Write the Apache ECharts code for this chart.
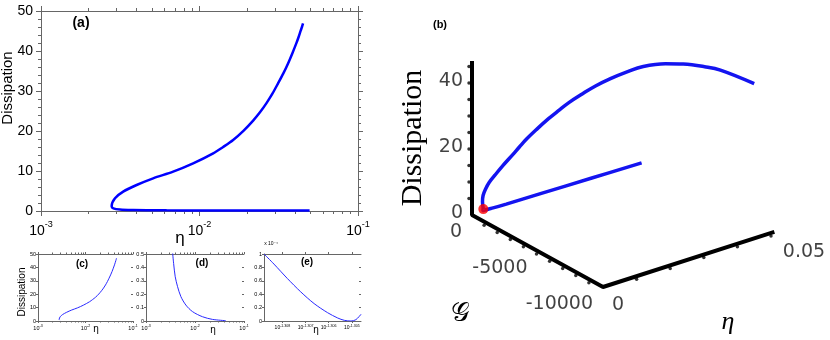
<!DOCTYPE html>
<html>
<head>
<meta charset="utf-8">
<script src="https://cdn.jsdelivr.net/npm/echarts@6/dist/echarts.min.js"></script>
<style>
  html, body { margin: 0; padding: 0; background: #fff; }
  #chart { width: 830px; height: 340px; }
</style>
</head>
<body>
<div id="chart"></div>
<script>
// upper branch, from the top end down to the fold
const upperEta = [0.0450, 0.0443, 0.0435, 0.0422, 0.0408, 0.0385, 0.0362, 0.0338, 0.0313, 0.0289, 0.0264, 0.0240, 0.0218, 0.0190, 0.0163, 0.0141, 0.0122, 0.00912, 0.00682, 0.00510, 0.00401, 0.00330, 0.00293, 0.00279]
const upperDiss = [46.9, 46.0, 45.1, 43.5, 41.9, 39.4, 36.9, 34.4, 31.9, 29.4, 26.9, 24.6, 22.6, 20.1, 17.75, 16.0, 14.4, 11.9, 9.83, 8.17, 6.5, 4.83, 3.17, 1.2]
const upperG = [-10000, -7600, -6600, -5300, -4300, -3200, -2500, -1900, -1400, -1000, -650, -420, -250, -100, 0, 0, 0, 0, 0, 0, 0, 0, -50, -150]

// lower branch, from the fold out to large eta
const lowerEta = [0.00279, 0.00286, 0.00315, 0.00382, 0.0050, 0.0062, 0.010, 0.020, 0.035, 0.0495]
const lowerDiss = [1.2, 0.67, 0.35, 0.22, 0.18, 0.16, 0.15, 0.14, 0.13, 0.13]
const lowerG = [-150, -100, -50, 0, 0, -20, -50, -100, -170, -250]

// fold point (red dot in b)
const foldEta = [0.00279]
const foldG = [-150]
const foldDiss = [1.2]

// panel (d): lower branch close up
const dEta = [0.00348, 0.00366, 0.00395, 0.00441, 0.00515, 0.00651, 0.0089, 0.0142, 0.0227, 0.0424]
const dDiss = [0.517, 0.43, 0.33, 0.256, 0.182, 0.119, 0.07, 0.032, 0.012, 0.0025]

// panel (e): log10(eta) and dissipation (x 10^-4)
const eLogEta = [-1.3088, -1.30837, -1.30779, -1.30721, -1.30663, -1.30605, -1.30561, -1.30532, -1.30503, -1.30482, -1.3046]
const eDiss = [1.0, 0.85, 0.635, 0.435, 0.26, 0.125, 0.045, 0.01, 0.0, 0.02, 0.1]
const eTickLog = [-1.308, -1.307, -1.306, -1.305]

// panel (b) axes
const bDissLabels = [0, 20, 40]
const bDissTicks = [5, 10, 15, 20, 25, 30, 35, 40, 45]
const bGLabels = [0, -5000, -10000]
const bGTicks = [-1000, -2000, -3000, -4000, -5000, -6000, -7000, -8000, -9000]
const bEtaLabels = [0, 0.05]
const bEtaTicks = [0.01, 0.02, 0.03, 0.04, 0.05]
const bDissTop = 46.7
const bGEnd = -10000
const bEtaEnd = 0.051

const SANS = 'Liberation Sans'
const SERIF = 'Liberation Serif'
const frame = '#666'
const blue = '#0000ff'

const zip = (xs, ys) => xs.map((x, i) => [x, ys[i]])

// simple oblique view for the 3-D panel: pixels per unit along each axis
const view = { etaX: 3360, etaY: 1080, gX: 0.0131, gY: -0.0072, dY: 3.3 }
function project(eta, g, d) {
  return [eta * view.etaX - g * view.gX, d * view.dY + eta * view.etaY - g * view.gY]
}
const project3 = (etas, gs, ds) => etas.map((e, i) => project(e, gs[i], ds[i]))

function pow10(v) {
  return '{b|10}{s|' + Math.round(Math.log10(v)) + '}'
}
function supRich(base, sup, lh) {
  return {
    b: { fontSize: base, fontFamily: SANS, color: '#000', lineHeight: lh, verticalAlign: 'bottom' },
    s: { fontSize: sup, fontFamily: SANS, color: '#000', lineHeight: sup, verticalAlign: 'top' }
  }
}

const grids = [
  { left: 41, top: 11, width: 317, height: 200 },   // a
  { left: 472, top: 15, width: 330, height: 200 },  // b (3-D projection)
  { left: 38, top: 254, width: 95, height: 67 },    // c
  { left: 146, top: 254, width: 98, height: 67 },   // d
  { left: 264, top: 254, width: 97, height: 67 }    // e
].map((g) => ({ ...g, containLabel: false, outerBoundsMode: 'none' }))

const line = (c, w) => ({ lineStyle: { color: c, width: w || 1 } })

function logX(grid, pos, fs, lab) {
  return {
    type: 'log', logBase: 10, gridIndex: grid, position: pos, min: 0.001, max: 0.1,
    axisLine: { show: true, onZero: false, ...line(frame) },
    axisTick: { show: true, length: fs > 8 ? 5 : 2, ...line(frame) },
    minorTick: { show: true, splitNumber: 9, length: fs > 8 ? 3 : 1.5, ...line(frame) },
    splitLine: { show: false },
    axisLabel: lab ? {
      formatter: pow10, margin: fs > 8 ? 9 : 3, rich: supRich(fs, fs * 0.65, fs * 1.3)
    } : { show: false }
  }
}
function valY(grid, pos, min, max, step, fs, lab, minor) {
  const big = fs > 8
  return {
    type: 'value', gridIndex: grid, position: pos, min: min, max: max, interval: step,
    axisLine: { show: pos === 'left' || big, onZero: false, ...line(frame) },
    axisTick: { show: true, length: big ? 5 : 2, inside: pos === 'right' && !big, ...line(frame) },
    minorTick: { show: !!minor, splitNumber: minor || 5, length: 3, ...line(frame) },
    splitLine: { show: false },
    axisLabel: lab ? { color: '#000', fontFamily: SANS, fontSize: fs, margin: big ? 8 : 2 } : { show: false }
  }
}
function logEX(pos, lab) {
  return {
    type: 'value', gridIndex: 4, position: pos, min: -1.3088, max: -1.3046,
    axisLine: { onZero: false, ...line(frame) }, splitLine: { show: false },
    axisTick: { length: 2, customValues: eTickLog, ...line(frame) },
    axisLabel: lab ? {
      customValues: eTickLog, margin: 3, rich: supRich(5, 3.6, 6.5),
      formatter: (v) => '{b|10}{s|' + v.toFixed(3) + '}'
    } : { show: false }
  }
}

const xAxis = [
  logX(0, 'bottom', 14, true),
  logX(0, 'top', 14, false),
  { type: 'value', gridIndex: 1, min: 0, max: 330, show: false },
  logX(2, 'bottom', 5.5, true),
  logX(2, 'top', 5.5, false),
  logX(3, 'bottom', 5.5, true),
  logX(3, 'top', 5.5, false),
  logEX('bottom', true),
  logEX('top', false)
]

const yAxis = [
  valY(0, 'left', 0, 50, 10, 14, true, 5),
  valY(0, 'right', 0, 50, 10, 14, false, 5),
  { type: 'value', gridIndex: 1, min: 0, max: 200, show: false },
  valY(2, 'left', 0, 50, 10, 5.5, true),
  valY(2, 'right', 0, 50, 10, 5.5, false),
  valY(3, 'left', 0, 0.5, 0.1, 5.5, true),
  valY(3, 'right', 0, 0.5, 0.1, 5.5, false),
  valY(4, 'left', 0, 1, 0.2, 5.5, true),
  valY(4, 'right', 0, 1, 0.2, 5.5, false)
]

const curveA = zip(upperEta, upperDiss).concat(zip(lowerEta, lowerDiss).slice(1))
const curveC = zip(upperEta, upperDiss).concat(zip(lowerEta, lowerDiss).slice(1, 2))

function bLabels(points, texts, align, offset) {
  return {
    type: 'scatter', xAxisIndex: 2, yAxisIndex: 2, symbolSize: 1, clip: false,
    itemStyle: { color: 'rgba(0,0,0,0)' },
    label: {
      show: true, position: 'inside', formatter: '{b}', offset: offset, align: align,
      fontFamily: 'DejaVu Sans', fontSize: 19, color: '#111'
    },
    data: points.map((p, i) => ({ name: texts[i], value: p }))
  }
}
function bTicks(points, off) {
  return {
    type: 'scatter', xAxisIndex: 2, yAxisIndex: 2, clip: false, symbol: 'circle', symbolSize: 3.5,
    symbolOffset: off, itemStyle: { color: '#000' }, data: points
  }
}

const series = [
  // (a)
  {
    type: 'line', xAxisIndex: 0, yAxisIndex: 0, data: curveA, showSymbol: false, smooth: 0.3,
    lineStyle: { color: blue, width: 2.5 }
  },
  // (b) frame of the 3-D box
  {
    type: 'line', xAxisIndex: 2, yAxisIndex: 2, showSymbol: false, clip: false,
    lineStyle: { color: '#000', width: 4 },
    data: [project(0, 0, bDissTop), project(0, 0, 0), project(0, bGEnd, 0), project(bEtaEnd, bGEnd, 0)]
  },
  bTicks(bDissTicks.map((d) => project(0, 0, d)), [-3, 0]),
  bTicks(bGTicks.map((g) => project(0, g, 0)), [-1, 3]),
  bTicks(bEtaTicks.map((e) => project(e, bGEnd, 0)), [0, 3]),
  bLabels(bDissLabels.map((d) => project(0, 0, d)), bDissLabels.map(String), 'right', [-9, -2]),
  bLabels(bGLabels.map((g) => project(0, g, 0)), bGLabels.map(String), 'right', [-10, 17]),
  bLabels(bEtaLabels.map((e) => project(e, bGEnd, 0)), bEtaLabels.map(String), 'center', [0, 0]),
  {
    type: 'line', xAxisIndex: 2, yAxisIndex: 2, showSymbol: false, clip: false, smooth: 0.4,
    lineStyle: { color: '#1414f0', width: 3.5 }, data: project3(upperEta, upperG, upperDiss)
  },
  {
    type: 'line', xAxisIndex: 2, yAxisIndex: 2, showSymbol: false, clip: false, smooth: 0.4,
    lineStyle: { color: '#1414f0', width: 3.5 }, data: project3(lowerEta, lowerG, lowerDiss)
  },
  {
    type: 'scatter', xAxisIndex: 2, yAxisIndex: 2, clip: false, symbolSize: 10, z: 5,
    itemStyle: { color: '#ff0000' }, data: project3(foldEta, foldG, foldDiss)
  },
  // (c), (d), (e)
  {
    type: 'line', xAxisIndex: 3, yAxisIndex: 3, data: curveC, showSymbol: false, smooth: 0.3,
    lineStyle: { color: '#2a2aff', width: 1 }
  },
  {
    type: 'line', xAxisIndex: 5, yAxisIndex: 5, data: zip(dEta, dDiss), showSymbol: false, smooth: 0.3,
    lineStyle: { color: '#2a2aff', width: 1 }
  },
  {
    type: 'line', xAxisIndex: 7, yAxisIndex: 7, data: zip(eLogEta, eDiss), showSymbol: false, smooth: 0.3,
    lineStyle: { color: '#2a2aff', width: 1 }
  }
]
// eta tick labels sit below/right of the axis
series[7].data[0].label = { offset: [15, 18] }
series[7].data[1].label = { offset: [33, 19] }

function txt(x, y, text, size, opts) {
  return {
    type: 'text', x: x, y: y, rotation: (opts && opts.rot) || 0,
    style: {
      text: text, x: 0, y: 0, align: 'center', verticalAlign: 'middle', fill: '#000',
      font: ((opts && opts.style) || '') + ' ' + size + 'px ' + ((opts && opts.family) || SANS)
    }
  }
}

const graphic = [
  txt(81, 23, '(a)', 14, { style: 'bold' }),
  txt(8, 88, 'Dissipation', 15, { rot: Math.PI / 2 }),
  txt(180, 238, 'η', 17),
  txt(440, 25, '(b)', 11, { style: 'bold' }),
  txt(413, 138, 'Dissipation', 30, { rot: Math.PI / 2, family: SERIF }),
  txt(460, 314, '𝒢', 26, { family: 'DejaVu Serif' }),
  txt(728, 322, 'η', 26, { style: 'italic', family: SERIF }),
  txt(82, 264, '(c)', 10, { style: 'bold' }),
  txt(202, 263, '(d)', 10, { style: 'bold' }),
  txt(307, 262, '(e)', 10, { style: 'bold' }),
  txt(22, 292, 'Dissipation', 10, { rot: Math.PI / 2 }),
  txt(96, 329, 'η', 10),
  txt(213, 330, 'η', 10),
  txt(316, 330, 'η', 10),
  txt(271, 244, 'x 10⁻⁴', 5)
]

const chart = echarts.init(document.getElementById('chart'), null, { renderer: 'canvas' })
chart.setOption({
  animation: false,
  backgroundColor: '#fff',
  grid: grids,
  xAxis: xAxis,
  yAxis: yAxis,
  series: series,
  graphic: graphic
})
</script>
</body>
</html>
